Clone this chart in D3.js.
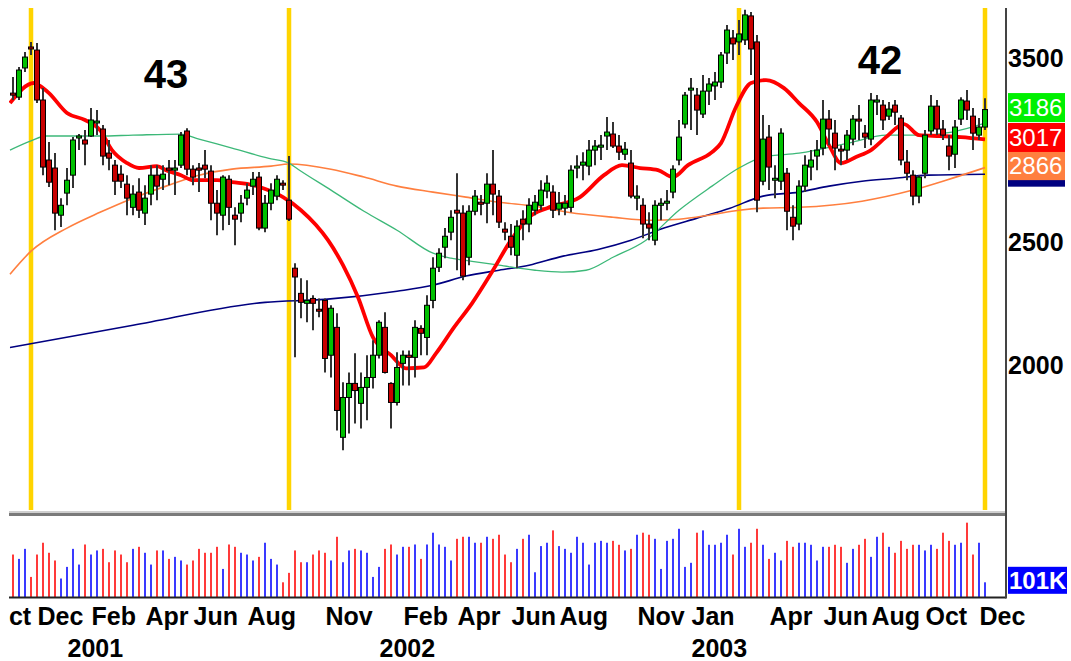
<!DOCTYPE html>
<html>
<head>
<meta charset="utf-8">
<script src="https://cdn.jsdelivr.net/npm/d3@7"></script>
<style>
    body { margin: 0; background: #fff; }
    #chart { width: 1071px; height: 661px; }
    text { font-family: "Liberation Sans", Arial, sans-serif; }
</style>
</head>
<body>
<div id="chart"></div>
<script>
// weekly bars, week ending friday
const firstWeek = "2000-10-27";

const opens = [
    3283, 3259, 3437, 3571, 3551, 3242, 2906, 2864, 2628, 2736,
    2827, 3025, 3014, 3036, 3109, 3075, 2943, 2879, 2832, 2781,
    2666, 2741, 2638, 2731, 2827, 2806, 2864, 2853, 2879, 3064,
    2858, 2864, 2879, 2848, 2686, 2628, 2806, 2628, 2638, 2711,
    2771, 2817, 2567, 2686, 2721, 2786, 2701, 2386, 2279, 2238,
    2258, 2214, 2250, 2036, 2142, 1753, 1885, 1934, 1865, 1920,
    1955, 2036, 2142, 1934, 1868, 2006, 2036, 2028, 2138, 2103,
    2250, 2390, 2479, 2548, 2652, 2638, 2434, 2647, 2691, 2686,
    2781, 2721, 2562, 2529, 2443, 2609, 2586, 2652, 2676, 2746,
    2741, 2657, 2662, 2666, 2864, 2879, 2874, 2959, 2975, 3036,
    3047, 2981, 2937, 2890, 2711, 2676, 2586, 2511, 2676, 2686,
    2741, 2906, 3103, 3301, 3271, 3160, 3295, 3326, 3350, 3532,
    3630, 3604, 3617, 3779, 3604, 2796, 3030, 2801, 2796, 2837,
    2618, 2586, 2771, 2869, 2927, 2970, 3131, 3052, 2964, 2959,
    3019, 3131, 3052, 3019, 3230, 3212, 3148, 3212, 3137, 2895,
    2827, 2721, 2837, 3064, 3206, 3075, 2981, 2937, 3131, 3236,
    3148, 3041, 3086
];
const highs = [
    3381, 3443, 3538, 3604, 3597, 3313, 3003, 2943, 2711, 2864,
    3030, 3047, 3069, 3195, 3183, 3097, 3014, 2906, 2879, 2827,
    2776, 2811, 2776, 2879, 2879, 2879, 2906, 2906, 3058, 3080,
    2879, 2890, 2959, 2879, 2751, 2827, 2827, 2666, 2726, 2786,
    2843, 2843, 2726, 2786, 2827, 2801, 2927, 2408, 2343, 2334,
    2271, 2258, 2258, 2230, 2198, 1938, 1973, 2043, 1973, 2036,
    2092, 2170, 2202, 1938, 2047, 2054, 2054, 2170, 2150, 2271,
    2434, 2474, 2567, 2652, 2837, 2676, 2676, 2751, 2726, 2837,
    2959, 2751, 2595, 2586, 2604, 2652, 2711, 2726, 2801, 2827,
    2776, 2741, 2726, 2879, 2932, 2948, 3014, 3014, 3041, 3143,
    3114, 3041, 3003, 2959, 2776, 2711, 2642, 2701, 2711, 2751,
    2879, 3126, 3289, 3375, 3313, 3393, 3375, 3412, 3538, 3717,
    3683, 3751, 3821, 3807, 3650, 3154, 3097, 2879, 3080, 2864,
    2676, 2801, 2932, 2959, 3014, 3242, 3183, 3126, 2986, 3069,
    3154, 3212, 3097, 3283, 3271, 3242, 3230, 3242, 3154, 2959,
    2853, 2827, 3069, 3271, 3242, 3126, 3041, 3126, 3259, 3301,
    3195, 3137, 3253
];
const lows = [
    3242, 3242, 3412, 3519, 3224, 2827, 2766, 2557, 2572, 2676,
    2761, 2959, 2879, 3030, 3041, 2879, 2853, 2726, 2761, 2628,
    2628, 2614, 2581, 2676, 2701, 2751, 2776, 2726, 2864, 2827,
    2776, 2741, 2811, 2604, 2534, 2557, 2581, 2488, 2595, 2676,
    2726, 2557, 2548, 2652, 2701, 2751, 2600, 2028, 2178, 2162,
    2131, 2182, 1973, 1955, 1775, 1712, 1765, 1798, 1781, 1808,
    1916, 2024, 1969, 1781, 1858, 1927, 1927, 1955, 2036, 2036,
    2218, 2369, 2430, 2511, 2377, 2334, 2399, 2628, 2628, 2590,
    2628, 2567, 2511, 2443, 2386, 2511, 2548, 2628, 2652, 2711,
    2614, 2628, 2628, 2642, 2811, 2801, 2827, 2879, 2906, 2959,
    2970, 2906, 2906, 2711, 2652, 2520, 2511, 2488, 2604, 2652,
    2711, 2879, 3080, 3069, 3041, 3137, 3212, 3242, 3313, 3462,
    3487, 3519, 3584, 3393, 2642, 2776, 2751, 2711, 2751, 2557,
    2511, 2557, 2741, 2801, 2853, 2932, 2986, 2853, 2879, 2906,
    2986, 3014, 2970, 2986, 3154, 3069, 3126, 3097, 2879, 2801,
    2676, 2686, 2811, 3041, 3041, 3014, 2853, 2864, 3097, 3126,
    2959, 3014, 3069
];
const closes = [
    3271, 3424, 3506, 3558, 3242, 2869, 2791, 2638, 2676, 2801,
    3014, 3036, 2992, 3126, 3120, 2927, 2916, 2796, 2796, 2711,
    2731, 2652, 2711, 2827, 2771, 2832, 2853, 2864, 3041, 2858,
    2817, 2853, 2858, 2686, 2638, 2817, 2666, 2609, 2686, 2751,
    2806, 2567, 2686, 2751, 2806, 2776, 2609, 2348, 2242, 2250,
    2238, 2206, 2024, 2218, 1841, 1885, 1934, 1909, 1920, 1955,
    2036, 2162, 1973, 1868, 1991, 2036, 2028, 2142, 2119, 2230,
    2386, 2452, 2529, 2618, 2638, 2352, 2647, 2721, 2681, 2781,
    2731, 2595, 2548, 2479, 2576, 2586, 2676, 2691, 2751, 2786,
    2652, 2686, 2686, 2853, 2874, 2895, 2959, 2981, 2986, 3058,
    2981, 2948, 2964, 2721, 2721, 2586, 2567, 2676, 2686, 2696,
    2858, 3030, 3271, 3313, 3183, 3295, 3338, 3350, 3519, 3683,
    3591, 3657, 3786, 3558, 2701, 3019, 2869, 2811, 3052, 2647,
    2576, 2771, 2879, 2906, 2959, 3131, 3075, 2970, 2954, 3041,
    3131, 3120, 3030, 3242, 3242, 3126, 3189, 3171, 2906, 2837,
    2721, 2817, 3041, 3206, 3075, 3041, 2927, 3086, 3242, 3183,
    3052, 3086, 3186
];
// volume in thousands
const volumes = [
    292, 262, 331, 138, 292, 373, 304, 251, 127, 207,
    331, 223, 361, 292, 320, 331, 239, 320, 292, 239,
    331, 345, 304, 223, 320, 320, 262, 276, 251, 223,
    251, 331, 304, 304, 345, 193, 361, 345, 304, 292,
    251, 276, 373, 262, 223, 101, 166, 320, 239, 239,
    292, 320, 304, 251, 414, 239, 320, 331, 320, 304,
    138, 207, 331, 361, 292, 345, 345, 361, 262, 361,
    442, 361, 345, 251, 400, 414, 414, 373, 373, 414,
    400, 428, 292, 239, 331, 400, 428, 170, 350, 373,
    458, 350, 331, 304, 414, 373, 223, 373, 386, 373,
    386, 359, 320, 331, 428, 442, 428, 400, 193, 386,
    400, 469, 207, 235, 442, 458, 359, 359, 373, 428,
    292, 469, 345, 373, 469, 359, 262, 304, 251, 386,
    345, 373, 373, 359, 251, 345, 345, 359, 345, 235,
    331, 359, 400, 276, 414, 442, 345, 304, 386, 331,
    359, 359, 320, 359, 331, 442, 386, 359, 373, 511,
    292, 373, 101
];

// moving averages: [week index, value]
const maRed = [[-0.5,3224],[3.5,3344],[4.5,3326],[6,3283],[9,3166],[12,3126],[14.5,3069],[16.5,2959],[19,2890],[21,2864],[24,2874],[25.5,2853],[28,2827],[30,2801],[34,2801],[36.5,2791],[40,2776],[42.5,2751],[45,2716],[48,2652],[50.5,2581],[52.5,2511],[55,2399],[57.5,2263],[60,2103],[63,2036],[65.5,1988],[68.5,1991],[70.5,2043],[73.5,2142],[76.5,2238],[80,2377],[83,2511],[86,2618],[89,2662],[94.5,2716],[98.5,2827],[101.5,2879],[104.5,2864],[107.5,2853],[110,2817],[112.5,2879],[116.5,2948],[118,2997],[120.5,3201],[123,3344],[125.5,3362],[128.5,3313],[131,3224],[134,3114],[136,2986],[138,2890],[140.5,2922],[143,2959],[145.5,3030],[148.5,3103],[151,3041],[154.5,3036],[158,3030],[162,3017]];
const maGreen = [[-0.5,2959],[3,3009],[5.5,3036],[14.5,3036],[20,3041],[28,3047],[31,3019],[36.5,2970],[42.5,2916],[46,2890],[47.5,2858],[53,2751],[58.5,2647],[64,2557],[70,2452],[73,2430],[76.5,2416],[81,2399],[87,2377],[91.5,2369],[95.5,2377],[100,2434],[105.5,2511],[111,2652],[116.5,2771],[121,2864],[125,2922],[131,2943],[140,3003],[145.5,3041],[151,3041],[156.5,3058],[162,3108]];
const maOrange = [[-0.5,2360],[3,2461],[9,2567],[14.5,2642],[20,2711],[25.5,2771],[31,2827],[36.5,2858],[43,2874],[46,2885],[53,2858],[58.5,2817],[64,2771],[70,2741],[75.5,2716],[81,2691],[87,2671],[92.5,2642],[100,2618],[106.5,2604],[111,2609],[116,2628],[121,2652],[125,2662],[131,2666],[141.5,2696],[150,2751],[155.5,2801],[162,2866]];
const maNavy = [[-0.5,2065],[20,2150],[42,2242],[52,2254],[64,2288],[70,2313],[75.5,2352],[81,2377],[86,2399],[91.5,2438],[97.5,2469],[103,2511],[108.5,2567],[114,2614],[119.5,2662],[125,2721],[131,2741],[136,2771],[141.5,2796],[147,2811],[152.5,2827],[162,2832]];

const priceTicks = [2000, 2500, 3500];
const monthTicks = ["2000-10-06","2000-12-01","2001-02-02","2001-04-06","2001-06-01","2001-08-03","2001-11-02","2002-02-01","2002-04-05","2002-06-07","2002-08-02","2002-11-01","2003-01-03","2003-04-04","2003-06-06","2003-08-01","2003-10-03","2003-12-05"];
const yearTicks = ["2001-01-05","2002-01-04","2003-01-03"];

// cycle markers (week index) and the week counts written between them
const cycleWeeks = [3, 46, 121, 162];
const cycleText = ["43", "42"];
const cycleTextWeek = [25.5, 144.5];
const cycleTextPrice = [3399, 3487];

// last values shown on the right scale (navy one sits under the orange tag)
const lastValues = [2832, 2866, 3017, 3186];

class CandleChart {

    constructor(parentElement) {
        this.parentElement = parentElement;
        this.maColors = {navy: "#000080", orange: "#ff7f3f", green: "#3cb878", red: "#ff0000"};
        this.initVis();
    }

    initVis() {
        let vis = this;

        vis.width = 1071;
        vis.height = 661;
        vis.left = 9;
        vis.right = 1006;

        vis.svg = d3.select("#" + vis.parentElement).append("svg")
            .attr("width", vis.width)
            .attr("height", vis.height);

        vis.parseDate = d3.timeParse("%Y-%m-%d");
        vis.start = vis.parseDate(firstWeek);
        vis.weekDate = w => new Date(vis.start.getTime() + w * 7 * 864e5);

        vis.x = d3.scaleTime()
            .domain([vis.start, vis.weekDate(closes.length - 1)])
            .range([13, 985]);
        vis.y = d3.scaleLog()
            .domain([2000, 3500])
            .range([365, 58]);
        vis.yVol = d3.scaleLinear()
            .domain([0, 550])
            .range([597, 517]);

        let defs = vis.svg.append("defs");
        defs.append("clipPath").attr("id", "price-clip")
            .append("rect").attr("x", vis.left).attr("y", 8)
            .attr("width", vis.right - vis.left - 1).attr("height", 502);
        defs.append("clipPath").attr("id", "label-clip")
            .append("rect").attr("x", vis.left).attr("y", 598)
            .attr("width", vis.width - vis.left).attr("height", 63);

        vis.priceGroup = vis.svg.append("g").attr("clip-path", "url(#price-clip)");
        vis.volGroup = vis.svg.append("g");

        vis.wrangleData();
    }

    wrangleData() {
        let vis = this;

        vis.candles = closes.map((c, i) => ({
            date: vis.weekDate(i),
            open: opens[i],
            high: highs[i],
            low: lows[i],
            close: c,
            volume: volumes[i],
            up: c >= opens[i]
        }));

        const toPts = arr => arr.map(d => ({date: vis.weekDate(d[0]), value: d[1]}));
        vis.maLines = [
            {key: "navy", pts: toPts(maNavy), width: 1.6},
            {key: "orange", pts: toPts(maOrange), width: 1.6},
            {key: "green", pts: toPts(maGreen), width: 1.3},
            {key: "red", pts: toPts(maRed), width: 3.8}
        ];

        vis.labels = [
            {value: lastValues[0], color: vis.maColors.navy, show: false},
            {value: lastValues[1], color: vis.maColors.orange, show: true},
            {value: lastValues[2], color: vis.maColors.red, show: true},
            {value: lastValues[3], color: "#00f000", show: true}
        ];

        vis.updateVis();
    }

    updateVis() {
        let vis = this;

        // yellow cycle lines
        vis.priceGroup.selectAll(".cycle")
            .data(cycleWeeks)
            .join("line")
            .attr("class", "cycle")
            .attr("x1", d => vis.x(vis.weekDate(d)))
            .attr("x2", d => vis.x(vis.weekDate(d)))
            .attr("y1", 8).attr("y2", 510)
            .attr("stroke", "#ffd400")
            .attr("stroke-width", 4.5);

        vis.priceGroup.selectAll(".cycle-text")
            .data(cycleText)
            .join("text")
            .attr("class", "cycle-text")
            .attr("x", (d, i) => vis.x(vis.weekDate(cycleTextWeek[i])))
            .attr("y", (d, i) => vis.y(cycleTextPrice[i]))
            .attr("dy", "0.36em")
            .attr("text-anchor", "middle")
            .attr("font-size", 40)
            .attr("font-weight", "bold")
            .text(d => d);

        // moving averages
        let line = d3.line()
            .x(d => vis.x(d.date))
            .y(d => vis.y(d.value))
            .curve(d3.curveMonotoneX);

        vis.priceGroup.selectAll(".ma")
            .data(vis.maLines)
            .join("path")
            .attr("class", "ma")
            .attr("fill", "none")
            .attr("stroke", d => vis.maColors[d.key])
            .attr("stroke-width", d => d.width)
            .attr("d", d => line(d.pts));

        // candles
        let candle = vis.priceGroup.selectAll(".candle")
            .data(vis.candles)
            .join("g")
            .attr("class", "candle")
            .attr("transform", d => `translate(${vis.x(d.date)},0)`);

        candle.append("line")
            .attr("y1", d => vis.y(d.high))
            .attr("y2", d => vis.y(d.low))
            .attr("stroke", "#333")
            .attr("stroke-width", 2);

        candle.append("rect")
            .attr("x", -2.5)
            .attr("width", 5)
            .attr("y", d => vis.y(Math.max(d.open, d.close)))
            .attr("height", d => Math.max(1.5, Math.abs(vis.y(d.open) - vis.y(d.close))))
            .attr("fill", d => d.up ? "#00c000" : "#c80000")
            .attr("stroke", "#000")
            .attr("stroke-width", 1);

        // panel separator
        vis.svg.append("rect")
            .attr("x", vis.left).attr("y", 511)
            .attr("width", vis.right - vis.left).attr("height", 2)
            .attr("fill", "#cfcfcf");
        vis.svg.append("rect")
            .attr("x", vis.left).attr("y", 513)
            .attr("width", vis.right - vis.left).attr("height", 3)
            .attr("fill", "#7a7a7a");

        // volume
        vis.volGroup.selectAll(".vol")
            .data(vis.candles)
            .join("rect")
            .attr("class", "vol")
            .attr("x", d => vis.x(d.date) - 1)
            .attr("width", 2)
            .attr("y", d => vis.yVol(d.volume))
            .attr("height", d => vis.yVol(0) - vis.yVol(d.volume))
            .attr("fill", d => d.up ? "#3a3aff" : "#ff3a3a");

        vis.svg.append("line")
            .attr("x1", vis.left).attr("x2", vis.right)
            .attr("y1", 597.5).attr("y2", 597.5)
            .attr("stroke", "#222").attr("stroke-width", 2);

        // right scale
        vis.svg.append("line")
            .attr("x1", vis.right).attr("x2", vis.right)
            .attr("y1", 8).attr("y2", 598.5)
            .attr("stroke", "#444").attr("stroke-width", 2);

        let yAxis = vis.svg.append("g")
            .attr("transform", `translate(${vis.right},0)`)
            .call(d3.axisRight(vis.y).tickValues(priceTicks).tickSize(0).tickPadding(2).tickFormat(d3.format("d")));
        yAxis.select(".domain").remove();
        yAxis.selectAll("text")
            .attr("font-size", 25)
            .attr("font-weight", "bold")
            .attr("fill", "#000")
            .attr("font-family", null);

        let tag = vis.svg.selectAll(".tag")
            .data(vis.labels)
            .join("g")
            .attr("class", "tag")
            .attr("transform", d => `translate(1008,${vis.y(d.value) - 2})`);
        tag.append("rect")
            .attr("x", 0).attr("y", -14.5)
            .attr("width", 57).attr("height", 29)
            .attr("fill", d => d.color);
        tag.filter(d => d.show).append("text")
            .attr("x", 1).attr("dy", "0.35em")
            .attr("fill", "#fff")
            .attr("font-size", 24)
            .text(d => d.value);

        let lastVol = volumes[volumes.length - 1];
        let volTag = vis.svg.append("g")
            .attr("transform", `translate(1008,${vis.yVol(lastVol) - 2})`);
        volTag.append("rect")
            .attr("x", 0).attr("y", -13.5)
            .attr("width", 59).attr("height", 27)
            .attr("fill", "#0000ff");
        volTag.append("text")
            .attr("x", 1).attr("dy", "0.36em")
            .attr("fill", "#fff")
            .attr("font-size", 24)
            .attr("font-weight", "bold")
            .text(lastVol + "K");

        // time axis
        let labelGroup = vis.svg.append("g").attr("clip-path", "url(#label-clip)");

        let xMonths = labelGroup.append("g")
            .attr("transform", "translate(0,598)")
            .call(d3.axisBottom(vis.x)
                .tickValues(monthTicks.map(vis.parseDate))
                .tickSize(0)
                .tickFormat(d3.timeFormat("%b")));
        let xYears = labelGroup.append("g")
            .attr("transform", "translate(0,598)")
            .call(d3.axisBottom(vis.x)
                .tickValues(yearTicks.map(vis.parseDate))
                .tickSize(0)
                .tickFormat(d3.timeFormat("%Y")));

        [[xMonths, 27], [xYears, 59]].forEach(([g, yy]) => {
            g.select(".domain").remove();
            g.selectAll("text")
                .attr("x", -6)
                .attr("y", yy)
                .attr("dy", 0)
                .attr("text-anchor", "start")
                .attr("font-size", 25)
                .attr("font-weight", "bold")
                .attr("fill", "#000")
                .attr("font-family", null);
        });
    }
}

new CandleChart("chart");
</script>
</body>
</html>
